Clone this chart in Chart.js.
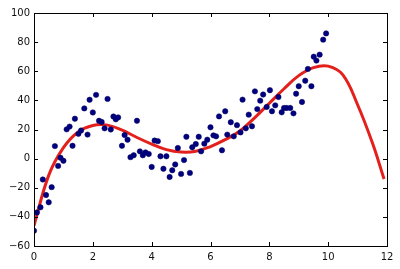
<!DOCTYPE html>
<html>
<head>
<meta charset="utf-8">
<title>Polynomial fit</title>
<script src="https://cdn.jsdelivr.net/npm/chart.js@4/dist/chart.umd.min.js"></script>
<style>
    html, body { margin: 0; padding: 0; background: #fff; }
    #wrap { width: 400px; height: 269px; }
</style>
</head>
<body>
<div id="wrap"><canvas id="chart-fit"></canvas></div>
<script>
// Noisy samples
const sampleX = [
    0.00, 0.10, 0.22, 0.30, 0.41, 0.50, 0.60, 0.71, 0.82, 0.90,
    1.00, 1.11, 1.21, 1.31, 1.39, 1.51, 1.60, 1.71, 1.82, 1.89,
    2.00, 2.11, 2.21, 2.30, 2.40, 2.50, 2.61, 2.70, 2.78, 2.86,
    2.99, 3.08, 3.18, 3.28, 3.39, 3.50, 3.60, 3.70, 3.79, 3.90,
    4.00, 4.10, 4.21, 4.30, 4.40, 4.50, 4.61, 4.70, 4.80, 4.89,
    5.00, 5.10, 5.18, 5.30, 5.38, 5.50, 5.60, 5.68, 5.79, 5.89,
    6.00, 6.10, 6.19, 6.29, 6.39, 6.50, 6.57, 6.69, 6.79, 6.90,
    7.02, 7.09, 7.20, 7.30, 7.41, 7.51, 7.59, 7.69, 7.79, 7.91,
    8.02, 8.09, 8.20, 8.31, 8.42, 8.50, 8.59, 8.71, 8.82, 8.91,
    9.00, 9.11, 9.22, 9.31, 9.43, 9.51, 9.60, 9.71, 9.83, 9.93
];
const sampleY = [
    -49.5, -37, -33.4, -14.3, -25, -30, -19.6, 8.6, -5, 0.6,
    -1.5, 20.1, 22, 8.8, 27.4, 17, 19.3, 34.5, 16.5, 40.4,
    31.7, 43.8, 26, 25.2, 20.8, 41, 20, 28.9, 27, 28.3,
    8.8, 16.2, 13, 1, 2.3, 26, 5, 2.3, 4.3, 3.2,
    -5.7, 12.4, 12, 1.6, -7, 1.6, -12.6, -8, -4, 7.3,
    -10.5, -1, 15, -9.8, 7.8, 10, 15, 5, 10.3, 13,
    21.5, 16, 15.3, 29, 5.7, 32.5, 16.5, 25, 15.3, 23,
    18, 40.5, 20.8, 30.2, 22.2, 46.2, 34, 39.8, 44, 35.5,
    47, 32.5, 36.6, 42.3, 31.8, 34.8, 34.8, 34.8, 31.1, 44.6,
    49.7, 38.9, 53.5, 61.6, 49.7, 70, 67.3, 71.4, 81.7, 86
];

// Fitted curve
const fitX = [0, 0.5, 1, 1.5, 2, 2.5, 3, 3.5, 4, 4.5, 5, 5.5, 6, 6.5, 7, 7.5, 8, 8.5, 9, 9.5, 10, 10.5, 11, 11.5, 11.9];
const fitY = [-46, -11.5, 7.5, 18.3, 22.8, 23, 19.5, 14.5, 10, 6.2, 4.5, 5, 8.3, 13, 19, 28, 38, 48, 57, 62.5, 63.5, 57.5, 37, 11, -14];

// Axis ticks
const xTicks = [0, 2, 4, 6, 8, 10, 12];
const yTicks = [-60, -40, -20, 0, 20, 40, 60, 80, 100];

const FONT = { family: 'DejaVu Sans', size: 10 };

// frame + inward tick marks on all four sides (matplotlib classic look)
const framePlugin = {
    id: 'frame',
    afterDraw(chart) {
        const ctx = chart.ctx;
        const a = chart.chartArea;
        const xs = chart.scales.x;
        const ys = chart.scales.y;
        const len = 4;
        ctx.save();
        ctx.strokeStyle = '#000';
        ctx.lineWidth = 1;
        ctx.beginPath();
        xTicks.forEach(v => {
            const px = Math.round(xs.getPixelForValue(v)) + 0.5;
            ctx.moveTo(px, a.bottom); ctx.lineTo(px, a.bottom - len);
            ctx.moveTo(px, a.top); ctx.lineTo(px, a.top + len);
        });
        yTicks.forEach(v => {
            const py = Math.round(ys.getPixelForValue(v)) + 0.5;
            ctx.moveTo(a.left, py); ctx.lineTo(a.left + len, py);
            ctx.moveTo(a.right, py); ctx.lineTo(a.right - len, py);
        });
        ctx.stroke();
        ctx.strokeRect(Math.round(a.left) + 0.5, Math.round(a.top) + 0.5,
            Math.round(a.right - a.left), Math.round(a.bottom - a.top));
        ctx.restore();
    }
};

const fmt = v => String(v).replace('-', '\u2212');

new Chart(document.getElementById('chart-fit').getContext('2d'), {
    type: 'scatter',
    data: {
        datasets: [
            {
                label: 'samples',
                data: sampleX.map((x, i) => ({ x: x, y: sampleY[i] })),
                backgroundColor: '#000080',
                borderColor: '#00005a',
                borderWidth: 0.5,
                pointRadius: 2.7,
                order: 0
            },
            {
                label: 'fit',
                type: 'line',
                data: fitX.map((x, i) => ({ x: x, y: fitY[i] })),
                borderColor: '#e3201b',
                borderWidth: 3,
                pointRadius: 0,
                fill: false,
                tension: 0.4,
                order: 1
            }
        ]
    },
    options: {
        responsive: true,
        maintainAspectRatio: false,
        animation: false,
        events: [],
        layout: { padding: { top: 13, right: 13, left: 0, bottom: 0 } },
        plugins: {
            legend: { display: false },
            tooltip: { enabled: false }
        },
        scales: {
            x: {
                type: 'linear',
                min: 0,
                max: 12,
                grid: { display: false, drawTicks: false },
                border: { display: false },
                afterBuildTicks: s => { s.ticks = xTicks.map(v => ({ value: v })); },
                afterFit: s => { s.height = 23; },
                ticks: { font: FONT, color: '#111', padding: 5, maxRotation: 0, callback: fmt }
            },
            y: {
                type: 'linear',
                min: -60,
                max: 100,
                grid: { display: false, drawTicks: false },
                border: { display: false },
                afterBuildTicks: s => { s.ticks = yTicks.map(v => ({ value: v })); },
                afterFit: s => { s.width = 34; },
                ticks: { font: FONT, color: '#111', padding: 4, callback: fmt }
            }
        }
    },
    plugins: [framePlugin]
});
</script>
</body>
</html>
